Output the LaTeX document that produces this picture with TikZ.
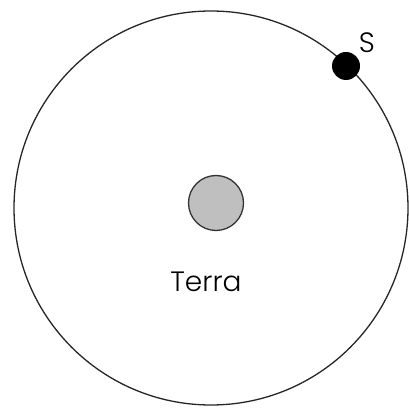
\documentclass[tikz,border=0pt]{standalone}
\usepackage{fontspec}
\setmainfont{Poppins Light}
\begin{document}
\begin{tikzpicture}[x=1pt,y=1pt,
  orbit/.style={draw=black!85,line width=1.3pt},
  planet/.style={circle,draw=black!80,fill=black!25,line width=1.3pt,minimum size=55pt,inner sep=0pt},
  sat/.style={circle,fill=black,minimum size=28pt,inner sep=0pt},
  lbl/.style={font=\fontsize{28}{30}\selectfont,inner sep=0pt}]
\useasboundingbox (0,0) rectangle (409,407);
\node[circle,orbit,minimum size=394pt,inner sep=0pt] (orb) at (211,199) {};
\node[planet] (terra) at (216,204) {};
\node[lbl] (tl) at (206,125) {Terra};
\node[sat] (s) at (346,341) {};
\node[lbl] (sl) at (367,364) {S};
\end{tikzpicture}
\end{document}
